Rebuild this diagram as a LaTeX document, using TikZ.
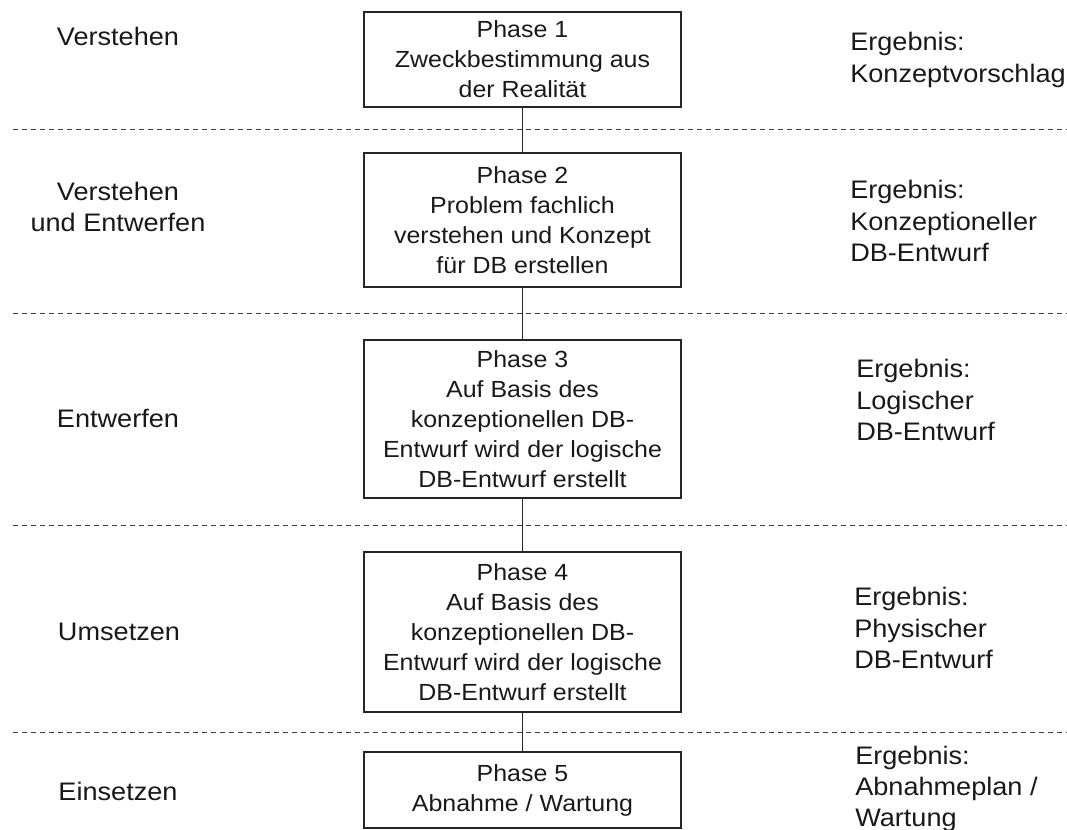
\documentclass[tikz,border=0pt]{standalone}
\usepackage{fontspec}
\setmainfont[FakeStretch=1.07]{Liberation Sans}
\usepackage{tikz}

\begin{document}
\begin{tikzpicture}[x=0.75pt,y=-0.75pt,
  phasebox/.style={draw=black!85, line width=1.1pt, align=center, minimum width=237.75pt,
    inner sep=0pt, text=black!90, font=\fontsize{17.5}{22.5}\selectfont},
  stage/.style={align=center, inner sep=0pt, text=black!90, font=\fontsize{19}{23.25}\selectfont},
  result/.style={align=left, anchor=west, inner sep=0pt, text=black!90, font=\fontsize{19}{23.5}\selectfont},
  divider/.style={draw=black!75, line width=0.75pt, dash pattern=on 3.75pt off 3pt}]
  \useasboundingbox (0,0) rectangle (1067,830);

  % Trennlinien
  \foreach \y in {130,314,525,732}
    \draw[divider] (13,\y) -- (1067,\y);

  % Phasen
  \node[phasebox, minimum height=71.25pt] (p1) at (522.5,59.5)
    {Phase 1\\Zweckbestimmung aus\\der Realit\"at};
  \node[phasebox, minimum height=100.5pt] (p2) at (522.5,220)
    {Phase 2\\Problem fachlich\\verstehen und Konzept\\f\"ur DB erstellen};
  \node[phasebox, minimum height=118.5pt] (p3) at (522.5,419)
    {Phase 3\\Auf Basis des\\konzeptionellen DB-\\Entwurf wird der logische\\DB-Entwurf erstellt};
  \node[phasebox, minimum height=120pt] (p4) at (522.5,632)
    {Phase 4\\Auf Basis des\\konzeptionellen DB-\\Entwurf wird der logische\\DB-Entwurf erstellt};
  \node[phasebox, minimum height=57pt] (p5) at (522.5,790)
    {Phase 5\\Abnahme / Wartung};

  \foreach \a/\b in {p1/p2,p2/p3,p3/p4,p4/p5}
    \draw[line width=1.1pt, black!85] (\a) -- (\b);

  % Taetigkeiten links
  \node[stage] (s1) at (118,36.5) {Verstehen};
  \node[stage] (s2) at (118,206.5) {Verstehen\\und Entwerfen};
  \node[stage] (s3) at (118,418.5) {Entwerfen};
  \node[stage] (s4) at (119,632) {Umsetzen};
  \node[stage] (s5) at (118,791) {Einsetzen};

  % Ergebnisse rechts
  \node[result] (r1) at (850,60) {Ergebnis:\\Konzeptvorschlag};
  \node[result] (r2) at (850,221) {Ergebnis:\\Konzeptioneller\\DB-Entwurf};
  \node[result] (r3) at (856,400) {Ergebnis:\\Logischer\\DB-Entwurf};
  \node[result] (r4) at (854,628) {Ergebnis:\\Physischer\\DB-Entwurf};
  \node[result] (r5) at (855,789) {Ergebnis:\\Abnahmeplan /\\Wartung};
\end{tikzpicture}
\end{document}
